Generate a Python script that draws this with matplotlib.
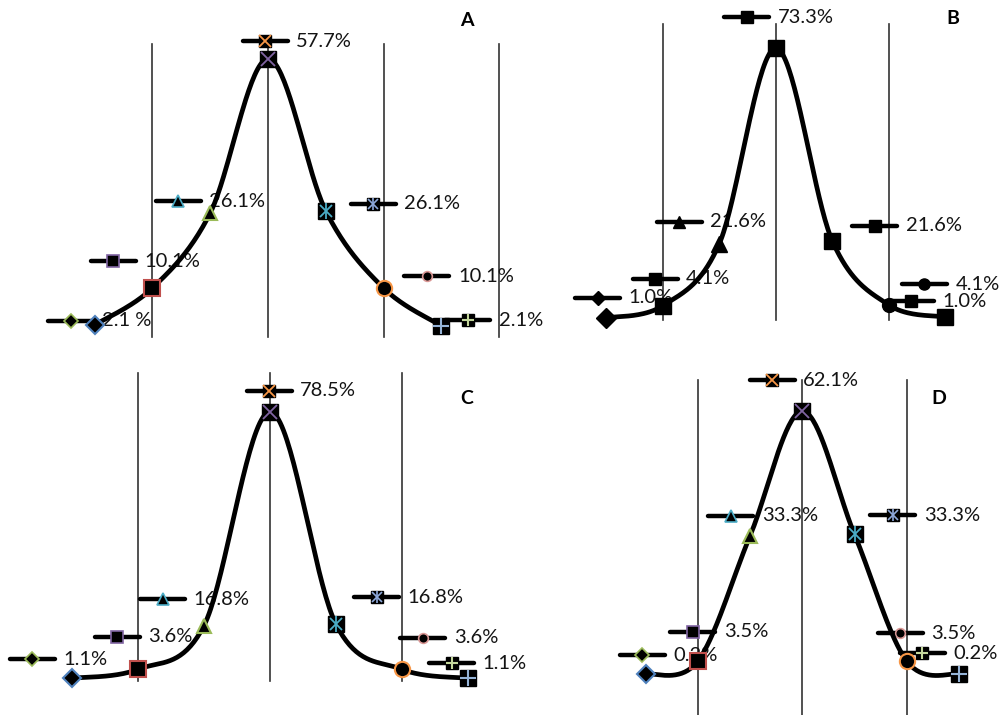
import matplotlib
matplotlib.use('Agg')
import matplotlib.pyplot as plt
import numpy as np

plt.rcParams['font.family'] = ['Lato', 'DejaVu Sans']

# Abstand vom Mittelwert in Standardabweichungen
sd_punkte = [-3, -2, -1, 0, 1, 2, 3]

# Hoehe der Kurve an den sieben Punkten (relativ zur Hoehe der senkrechten Linien)
hoehe_a = [0.041, 0.167, 0.423, 0.949, 0.430, 0.167, 0.038]
hoehe_b = [0.007, 0.048, 0.257, 0.918, 0.268, 0.051, 0.010]
hoehe_c = [0.008, 0.037, 0.179, 0.873, 0.183, 0.037, 0.008]
hoehe_d = [0.122, 0.161, 0.535, 0.907, 0.539, 0.161, 0.122]

# Beschriftungen der Anteile
anteile_a = ['2.1 %', '10.1%', '26.1%', '57.7%', '26.1%', '10.1%', '2.1%']
anteile_b = ['1.0%', '4.1%', '21.6%', '73.3%', '21.6%', '4.1%', '1.0%']
anteile_c = ['1.1%', '3.6%', '16.8%', '78.5%', '16.8%', '3.6%', '1.1%']
anteile_d = ['0.2%', '3.5%', '33.3%', '62.1%', '33.3%', '3.5%', '0.2%']

# senkrechte Linien
linien_a = [-2, 0, 2, 4]
linien_bcd = [-2, 0, 2]

# Layout: Lage der Legendenschluessel (x, y) je Panel
schluessel_a = [(-3.41, 0.055), (-2.68, 0.259), (-1.557, 0.464), (-0.05, 1.010),
                (1.817, 0.454), (2.75, 0.208), (3.46, 0.058)]
schluessel_b = [(-3.15, 0.075), (-2.136, 0.139), (-1.711, 0.332), (-0.513, 1.022),
                (1.757, 0.319), (2.63, 0.121), (2.395, 0.064)]
schluessel_c = [(-3.60, 0.069), (-2.314, 0.143), (-1.626, 0.265), (-0.01, 0.942),
                (1.617, 0.271), (2.314, 0.140), (2.753, 0.056)]
schluessel_d = [(-3.065, 0.179), (-2.10, 0.249), (-1.366, 0.595), (-0.575, 1.0),
                (1.732, 0.596), (1.872, 0.244), (2.30, 0.184)]

# Markerstile: Liste von Ebenen (marker, groesse, fuellung, rand, randbreite)
kurve_bunt = [
    [('D', 9, 'k', '#4F81BD', 1.5)],
    [('s', 11, 'k', '#C0504D', 1.5)],
    [('^', 10, 'k', '#9BBB59', 1.5)],
    [('s', 12, 'k', 'k', 1), ('x', 10, 'none', '#8064A2', 1.3)],
    [('s', 11, 'k', 'k', 1), ('x', 9, 'none', '#4BACC6', 1.3), ('|', 11, 'none', '#4BACC6', 1.3)],
    [('o', 11, 'k', '#F79646', 1.5)],
    [('s', 11, 'k', 'k', 1), ('+', 11, 'none', '#95B3D7', 1.5)],
]
schluessel_bunt = [
    [('D', 7, 'k', '#9BBB59', 1.2)],
    [('s', 8, 'k', '#8064A2', 1.2)],
    [('^', 8, 'k', '#4BACC6', 1.2)],
    [('s', 8, 'k', 'k', 1), ('x', 8, 'none', '#F79646', 1.3)],
    [('s', 8, 'k', 'k', 1), ('x', 7, 'none', '#8EA9DB', 1.2), ('|', 8, 'none', '#8EA9DB', 1.2)],
    [('o', 7, 'k', '#D99694', 1.2)],
    [('s', 8, 'k', 'k', 1), ('+', 8, 'none', '#C3D69B', 1.5)],
]
kurve_schwarz = [[(m, s, 'k', 'k', 1)] for m, s in
                 [('D', 10), ('s', 12), ('^', 11), ('s', 12), ('s', 12), ('o', 10), ('s', 12)]]
schluessel_schwarz = [[(m, s, 'k', 'k', 1)] for m, s in
                      [('D', 7), ('s', 9), ('^', 9), ('s', 9), ('s', 9), ('o', 8), ('s', 9)]]

W, H = 1001, 715
fig = plt.figure(figsize=(W / 100, H / 100), dpi=100)


def glatt(xs, ys, n=40):
    # Catmull-Rom Kurve durch die Punkte (wie geglaettete Linie in Excel)
    P = np.column_stack([xs, ys]).astype(float)
    P = np.vstack([P[0], P, P[-1]])
    t = np.linspace(0, 1, n)[:, None]
    teile = []
    for i in range(1, len(P) - 2):
        p0, p1, p2, p3 = P[i - 1], P[i], P[i + 1], P[i + 2]
        teile.append(0.5 * (2 * p1 + (-p0 + p2) * t + (2 * p0 - 5 * p1 + 4 * p2 - p3) * t ** 2
                            + (-p0 + 3 * p1 - 3 * p2 + p3) * t ** 3))
    return np.vstack(teile)


def marker(ax, x, y, ebenen, z):
    for m, s, fc, ec, mew in ebenen:
        ax.plot([x], [y], linestyle='none', marker=m, markersize=s, markerfacecolor=fc,
                markeredgecolor=ec, markeredgewidth=mew, zorder=z, clip_on=False)


def panel(cx, einheit, ybasis, yoben, hoehe, anteile, linien, schluessel, k_stil, s_stil,
          buchstabe, bx, by):
    x0 = cx - 4.6 * einheit
    breite = 9.2 * einheit
    ax = fig.add_axes([x0 / W, 1 - ybasis / H, breite / W, (ybasis - yoben) / H])
    ax.set_xlim(-4.6, 4.6)
    ax.set_ylim(0, 1)
    ax.axis('off')
    for lx in linien:
        ax.plot([lx, lx], [0, 1], color='#333333', lw=1.2, zorder=1, clip_on=False)
    kurve = glatt(sd_punkte, hoehe)
    ax.plot(kurve[:, 0], kurve[:, 1], color='k', lw=3.4, zorder=4, clip_on=False,
            solid_capstyle='round')
    for i in range(7):
        marker(ax, sd_punkte[i], hoehe[i], k_stil[i], 5)
    halb = 22.5 / einheit
    for i, (kx, ky) in enumerate(schluessel):
        ax.plot([kx - halb, kx + halb], [ky, ky], color='k', lw=3.2, zorder=3,
                solid_capstyle='round', clip_on=False)
        marker(ax, kx, ky, s_stil[i], 3)
        ax.text(kx + 31 / einheit, ky, anteile[i], fontsize=14.5, va='center', ha='left',
                color='#141414', zorder=2, clip_on=False)
    fig.text(bx / W, 1 - by / H, buchstabe, fontsize=14, fontweight='bold',
             ha='center', va='center')


panel(268, 57.8, 337, 44, hoehe_a, anteile_a, linien_a, schluessel_a,
      kurve_bunt, schluessel_bunt, 'A', 467, 20)
panel(775.7, 56.5, 320, 24, hoehe_b, anteile_b, linien_bcd, schluessel_b,
      kurve_schwarz, schluessel_schwarz, 'B', 953, 19)
panel(270, 66, 680.7, 372.7, hoehe_c, anteile_c, linien_bcd, schluessel_c,
      kurve_bunt, schluessel_bunt, 'C', 467, 398)
panel(802.3, 52.2, 715, 380, hoehe_d, anteile_d, linien_bcd, schluessel_d,
      kurve_bunt, schluessel_bunt, 'D', 939, 398)

fig.savefig('out.png', dpi=100)
